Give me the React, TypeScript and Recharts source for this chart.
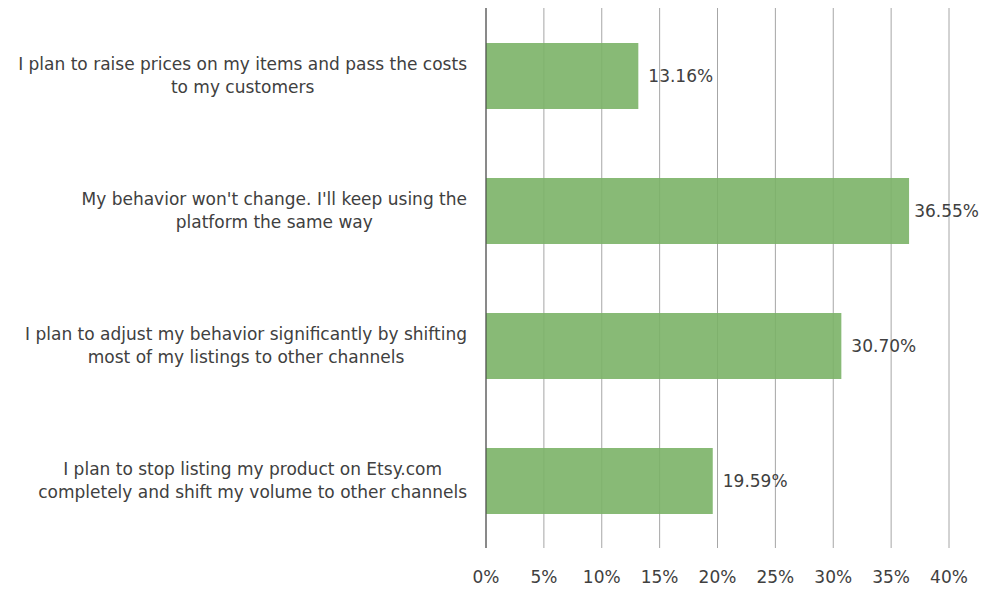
import { BarChart, Bar, XAxis, YAxis, CartesianGrid, LabelList } from "recharts";

const categories = [
  "I plan to raise prices on my items and pass the costs\nto my customers",
  "My behavior won't change. I'll keep using the\nplatform the same way",
  "I plan to adjust my behavior significantly by shifting\nmost of my listings to other channels",
  "I plan to stop listing my product on Etsy.com\ncompletely and shift my volume to other channels",
];
const shares = [13.16, 36.55, 30.7, 19.59];
const xTicks = [0, 5, 10, 15, 20, 25, 30, 35, 40];

const data = categories.map((name, i) => ({ name, value: shares[i] }));

const W = 981;
const H = 589;
const FONT = "'DejaVu Sans', Verdana, sans-serif";
const TEXT = "#404040";

let ctx: CanvasRenderingContext2D | null = null;
function textWidth(s: string, size: number) {
  if (!ctx) ctx = document.createElement("canvas").getContext("2d");
  if (!ctx) return s.length * size * 0.6;
  ctx.font = `${size}px ${FONT}`;
  return ctx.measureText(s).width;
}

// category labels: two lines, centred on each other, block right-aligned
function CategoryTick(props: any) {
  const { x, y, payload } = props;
  const lines: string[] = String(payload.value).split("\n");
  const size = 17;
  const widest = Math.max(...lines.map((l) => textWidth(l, size)));
  const cx = x - 11 - widest / 2;
  const lh = 23;
  const top = y - ((lines.length - 1) * lh) / 2;
  return (
    <text textAnchor="middle" fill={TEXT} fontSize={size} fontFamily={FONT}>
      {lines.map((l, i) => (
        <tspan key={i} x={cx} y={top + i * lh} dy="0.35em">
          {l}
        </tspan>
      ))}
    </text>
  );
}

// value label right of the bar, pulled in if it would run off the edge
function ValueLabel(props: any) {
  const { x, y, width, height, value } = props;
  const label = `${Number(value).toFixed(2)}%`;
  const tw = textWidth(label, 17);
  const lx = Math.min(x + width + 10, W - 2 - tw);
  return (
    <text
      x={lx}
      y={y + height / 2}
      dy="0.35em"
      fill={TEXT}
      fontSize={17}
      fontFamily={FONT}
    >
      {label}
    </text>
  );
}

export default function App() {
  return (
    <div style={{ width: W, height: H, background: "#fff" }}>
      <style>{`body{margin:0}`}</style>
      <BarChart
        width={W}
        height={H}
        data={data}
        layout="vertical"
        margin={{ top: 8, right: 32, bottom: 0, left: 0 }}
      >
        <CartesianGrid horizontal={false} stroke="#a6a6a6" strokeWidth={1} />
        <XAxis
          type="number"
          domain={[0, 40]}
          ticks={xTicks}
          tickFormatter={(v) => `${v}%`}
          axisLine={false}
          tickLine={false}
          height={41}
          tickMargin={17}
          tick={{ fill: TEXT, fontSize: 17, fontFamily: FONT }}
        />
        <YAxis
          type="category"
          dataKey="name"
          width={486}
          axisLine={{ stroke: "#404040" }}
          tickLine={false}
          tick={<CategoryTick />}
        />
        <Bar
          dataKey="value"
          fill="#7bb367"
          fillOpacity={0.9}
          barSize={66}
          isAnimationActive={false}
        >
          <LabelList dataKey="value" content={<ValueLabel />} />
        </Bar>
      </BarChart>
    </div>
  );
}
